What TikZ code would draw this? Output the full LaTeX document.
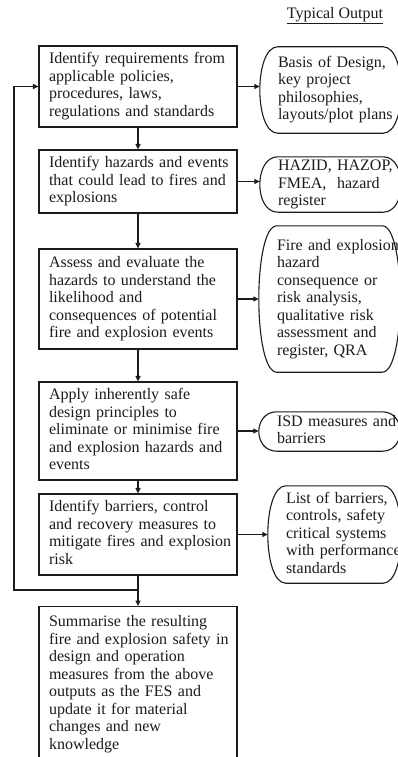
\documentclass[tikz,border=0pt]{standalone}
\usepackage{fontspec}
\setmainfont{Liberation Serif}
\usetikzlibrary{arrows.meta,calc}
\definecolor{ink}{HTML}{1C1C1C}
% a block of unbreakable, left-aligned lines
\newcommand\lns[1]{\begin{tabular}{@{}l@{}}#1\end{tabular}}
% outline of an output box: flat top and bottom, bulging left and right sides
\newcommand\outshape[1]{%
  \draw[outline] ($(#1.north west)+(18,0)$) -- ($(#1.north east)+(-18,0)$)
    .. controls ($(#1.north east)+(6,0)$) and ($(#1.south east)+(6,0)$) .. ($(#1.south east)+(-18,0)$)
    -- ($(#1.south west)+(18,0)$)
    .. controls ($(#1.south west)+(-6,0)$) and ($(#1.north west)+(-6,0)$) .. cycle;}
\begin{document}
\begin{tikzpicture}[x=1pt,y=-1pt,
  txt/.style={font=\fontsize{16}{17.5}\selectfont, text=ink},
  stepbox/.style={txt, draw=ink, line width=1.1pt, text width=178pt, inner xsep=10pt,
    inner ysep=0pt, align=left},
  outbox/.style={txt, text width=105pt, inner xsep=18pt, inner ysep=0pt, align=left},
  outline/.style={draw=ink, line width=1.1pt},
  conn/.style={draw=ink, line width=1.1pt},
  arr/.style={conn, -{Triangle[length=5.5pt,width=5pt]}}]
\useasboundingbox (0,0) rectangle (398,757);
\fill[white] (0,0) rectangle (398,757);
\clip (0,0) rectangle (398,757);

\node[txt] (head) at (335,16) {\underline{Typical Output}};

% process steps
\node[stepbox, minimum height=81pt] (s1) at (138,86.5)
  {\lns{Identify requirements from\\ applicable policies,\\ procedures, laws,\\ regulations and standards}};
\node[stepbox, minimum height=63pt] (s2) at (138,181.5)
  {\lns{Identify hazards and events\\ that could lead to fires and\\ explosions}};
\node[stepbox, minimum height=100pt] (s3) at (138,299)
  {\lns{Assess and evaluate the\\ hazards to understand the\\ likelihood and\\ consequences of potential\\ fire and explosion events}};
\node[stepbox, minimum height=98pt] (s4) at (138,431)
  {\lns{Apply inherently safe\\ design principles to\\ eliminate or minimise fire\\ and explosion hazards and\\ events}};
\node[stepbox, minimum height=81pt] (s5) at (138,534.5)
  {\lns{Identify barriers, control\\ and recovery measures to\\ mitigate fires and explosion\\ risk}};
\node[stepbox, anchor=north, minimum height=155.5pt] (s6) at (138,606)
  {\lns{Summarise the resulting\\ fire and explosion safety in\\ design and operation\\ measures from the above\\ outputs as the FES and\\ update it for material\\ changes and new\\ knowledge}};

% typical outputs
\node[outbox, minimum height=86pt] (o1) at (330.5,90)
  {\lns{Basis of Design,\\ key project\\ philosophies,\\ layouts/plot plans}};
\node[outbox, minimum height=55pt] (o2) at (330.5,184.5)
  {\lns{HAZID, HAZOP,\\ FMEA,\ \ hazard\\ register}};
\node[outbox, minimum height=146pt] (o3) at (329.5,299)
  {\lns{Fire and explosion\\ hazard\\ consequence or\\ risk analysis,\\ qualitative risk\\ assessment and\\ register, QRA}};
\node[outbox, minimum height=39pt] (o4) at (329.5,431.5)
  {\lns{ISD measures and\\ barriers}};
\node[outbox, text width=97pt, minimum height=97pt] (o5) at (334.5,534.5)
  {\lns{List of barriers,\\ controls, safety\\ critical systems\\ with performance\\ standards}};
\outshape{o1}\outshape{o2}\outshape{o3}\outshape{o4}\outshape{o5}

% flow between steps
\draw[arr] (s1) -- (s2);
\draw[arr] (s2) -- (s3);
\draw[arr] (s3) -- (s4);
\draw[arr] (s4) -- (s5);
\coordinate (j) at (138,590);
\coordinate (lp) at (14,590);
\draw[conn] (s5.south) -- (j);
\draw[arr] (j) -- (s6.north);
\draw[arr] (j) -- (lp) |- (s1.west);

% step outputs
\draw[arr] (s1.east) -- (o1.west |- s1.east);
\draw[arr] (s2.east) -- (o2.west |- s2.east);
\draw[arr] (s3.east) -- (o3.west);
\draw[arr] (s4.east) -- (o4.west |- s4.east);
\draw[arr] (s5.east) -- (o5.west);
\end{tikzpicture}
\end{document}
